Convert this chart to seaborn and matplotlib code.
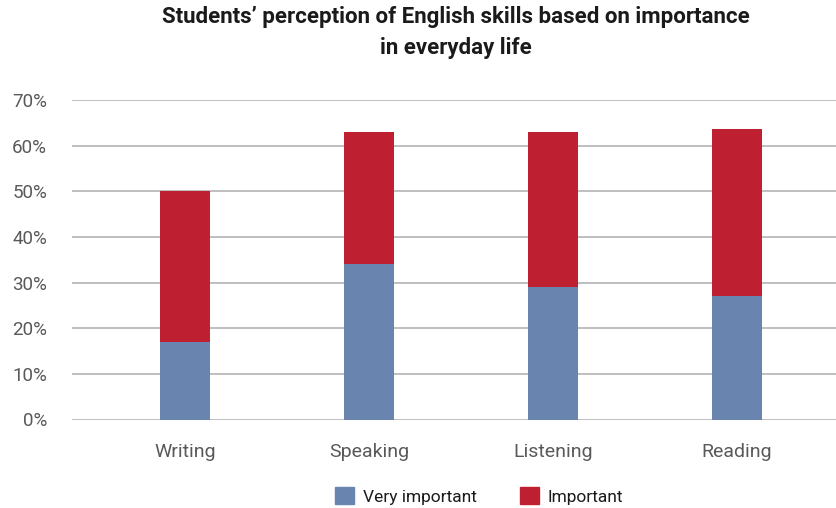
import pandas as pd
import seaborn as sns
import matplotlib.pyplot as plt
from matplotlib.patches import Patch
from matplotlib.ticker import PercentFormatter

# Data (percent)
skills = ["Writing", "Speaking", "Listening", "Reading"]
very_important = [17, 34, 29, 27]
important = [33, 29, 34, 36.7]

blue = "#6A84B0"
red = "#BE1F31"

df = pd.DataFrame({"skill": skills, "very": very_important, "imp": important})
df["total"] = df["very"] + df["imp"]

sns.set_theme(style="white")
plt.rcParams["font.family"] = ["Roboto", "DejaVu Sans"]

fig = plt.figure(figsize=(8.36, 5.08), dpi=100)
ax = fig.add_axes([72 / 836, 1 - 419.5 / 508, 1 - 72 / 836, (419.5 - 100) / 508])

# stacked bars: total in red, very important in blue on top
sns.barplot(data=df, x="skill", y="total", color=red, width=0.27, saturation=1,
            linewidth=0, ax=ax, zorder=3)
sns.barplot(data=df, x="skill", y="very", color=blue, width=0.27, saturation=1,
            linewidth=0, ax=ax, zorder=4)

ax.set_ylim(0, 70)
ax.set_xlim(-0.614, 3.54)
ax.set_yticks(range(0, 71, 10))
ax.yaxis.set_major_formatter(PercentFormatter(decimals=0))
ax.grid(axis="y", color="#B4B4B8", linewidth=1.2, zorder=0)
ax.set_axisbelow(True)
for s in ax.spines.values():
    s.set_visible(False)
ax.set_xlabel("")
ax.set_ylabel("")
ax.tick_params(axis="y", labelsize=13.5, labelcolor="#595959", length=0, pad=18)
ax.tick_params(axis="x", labelsize=14, labelcolor="#595959", length=0, pad=17)

fig.suptitle("Students\u2019 perception of English skills based on importance\nin everyday life",
             x=0.545, y=0.988, fontsize=16, fontweight="bold", color="#1a1a1a", linespacing=1.5)

handles = [Patch(color=blue, label="Very important"), Patch(color=red, label="Important")]
fig.legend(handles=handles, loc="center", bbox_to_anchor=(479 / 836, 1 - 496 / 508), ncol=2,
           frameon=False, fontsize=12.5, handlelength=1.1, handleheight=1.1, columnspacing=2.5,
           handletextpad=0.5, labelcolor="#1a1a1a")

fig.savefig("out.png", dpi=100)
